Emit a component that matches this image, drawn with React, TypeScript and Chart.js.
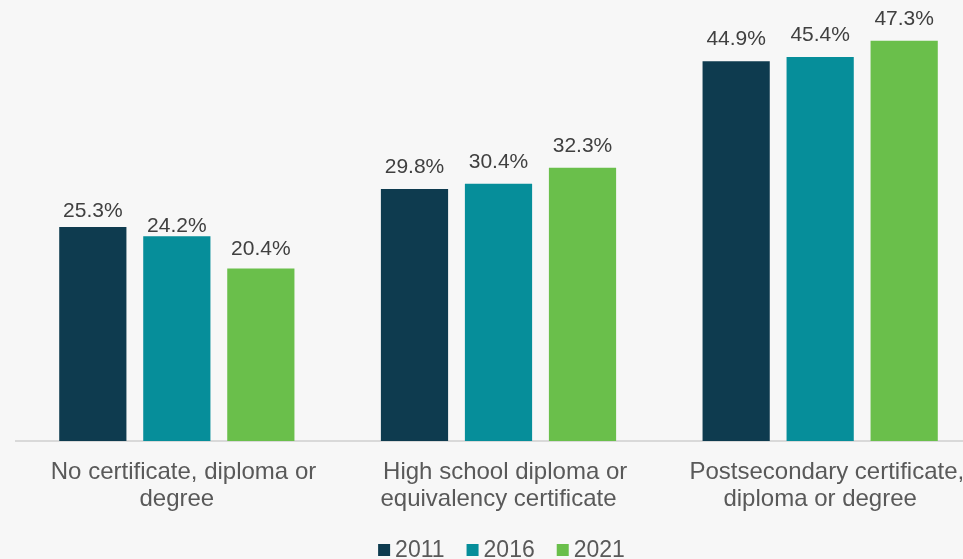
import React, { useEffect, useRef } from "react";
import { Chart, registerables } from "chart.js";

Chart.register(...registerables);

const categories: string[][] = [
  ["  No certificate, diploma or", "degree"],
  ["  High school diploma or", "equivalency certificate"],
  ["  Postsecondary certificate,", "diploma or degree"],
];
const years = ["2011", "2016", "2021"];
const values2011 = [25.3, 29.8, 44.9];
const values2016 = [24.2, 30.4, 45.4];
const values2021 = [20.4, 32.3, 47.3];
const seriesColors = ["#0E3B4F", "#068E9A", "#6ABF4B"];
const yMax = 50;

const FONT = '"Liberation Sans", Arial, Helvetica, sans-serif';

// gap (px) between bar top and label baseline, per series/category
const labelGaps = [
  [10, 16, 16],
  [4, 16, 16],
  [13, 16, 16],
];

const valueLabelsPlugin = {
  id: "valueLabels",
  afterDatasetsDraw(chart: any) {
    const ctx = chart.ctx;
    ctx.save();
    ctx.font = `21px ${FONT}`;
    ctx.fillStyle = "#404040";
    ctx.textAlign = "center";
    ctx.textBaseline = "alphabetic";
    chart.data.datasets.forEach((ds: any, di: number) => {
      const meta = chart.getDatasetMeta(di);
      meta.data.forEach((el: any, i: number) => {
        const v = ds.data[i] as number;
        ctx.fillText(v.toFixed(1) + "%", el.x, el.y - labelGaps[di][i]);
      });
    });
    ctx.restore();
  },
};

const legendPlugin = {
  id: "customLegend",
  afterDraw(chart: any) {
    const ctx = chart.ctx;
    ctx.save();
    ctx.font = `23px ${FONT}`;
    ctx.textBaseline = "alphabetic";
    ctx.textAlign = "left";
    const box = 12;
    const gapText = 5;
    const gapItem = 22;
    const widths = years.map((y) => ctx.measureText(y).width);
    const total =
      widths.reduce((a, w) => a + box + gapText + w, 0) + gapItem * (years.length - 1);
    const ca = chart.chartArea;
    let x = (ca.left + ca.right) / 2 + 3 - total / 2;
    const baseY = chart.height - 2;
    years.forEach((y, i) => {
      ctx.fillStyle = seriesColors[i];
      ctx.fillRect(x, baseY - 13, box, box);
      ctx.fillStyle = "#595959";
      ctx.fillText(y, x + box + gapText, baseY);
      x += box + gapText + widths[i] + gapItem;
    });
    ctx.restore();
  },
};

export default function App() {
  const ref = useRef<HTMLCanvasElement | null>(null);

  useEffect(() => {
    if (!ref.current) return;
    const chart = new Chart(ref.current, {
      type: "bar",
      data: {
        labels: categories,
        datasets: [values2011, values2016, values2021].map((vals, i) => ({
          label: years[i],
          data: vals,
          backgroundColor: seriesColors[i],
          borderWidth: 0,
          categoryPercentage: 0.7835,
          barPercentage: 0.8,
        })),
      },
      options: {
        responsive: false,
        animation: false,
        devicePixelRatio: 1,
        layout: { padding: { left: 16, right: 19, top: 18, bottom: 28 } },
        plugins: {
          legend: { display: false },
          tooltip: { enabled: false },
        },
        scales: {
          x: {
            grid: { display: false, drawTicks: false },
            border: { display: true, color: "#d9d9d9", width: 2 },
            ticks: {
              color: "#595959",
              font: { family: FONT, size: 24, lineHeight: 1.125 },
              padding: 18,
              maxRotation: 0,
              minRotation: 0,
              autoSkip: false,
            },
          },
          y: { display: false, min: 0, max: yMax },
        },
      },
      plugins: [valueLabelsPlugin, legendPlugin],
    });
    return () => chart.destroy();
  }, []);

  return (
    <div
      style={{
        position: "fixed",
        left: 0,
        top: 0,
        width: 963,
        height: 559,
        overflow: "hidden",
        background: "#f7f7f7",
      }}
    >
      <canvas
        ref={ref}
        width={1000}
        height={559}
        style={{ display: "block", width: 1000, height: 559 }}
      />
    </div>
  );
}
